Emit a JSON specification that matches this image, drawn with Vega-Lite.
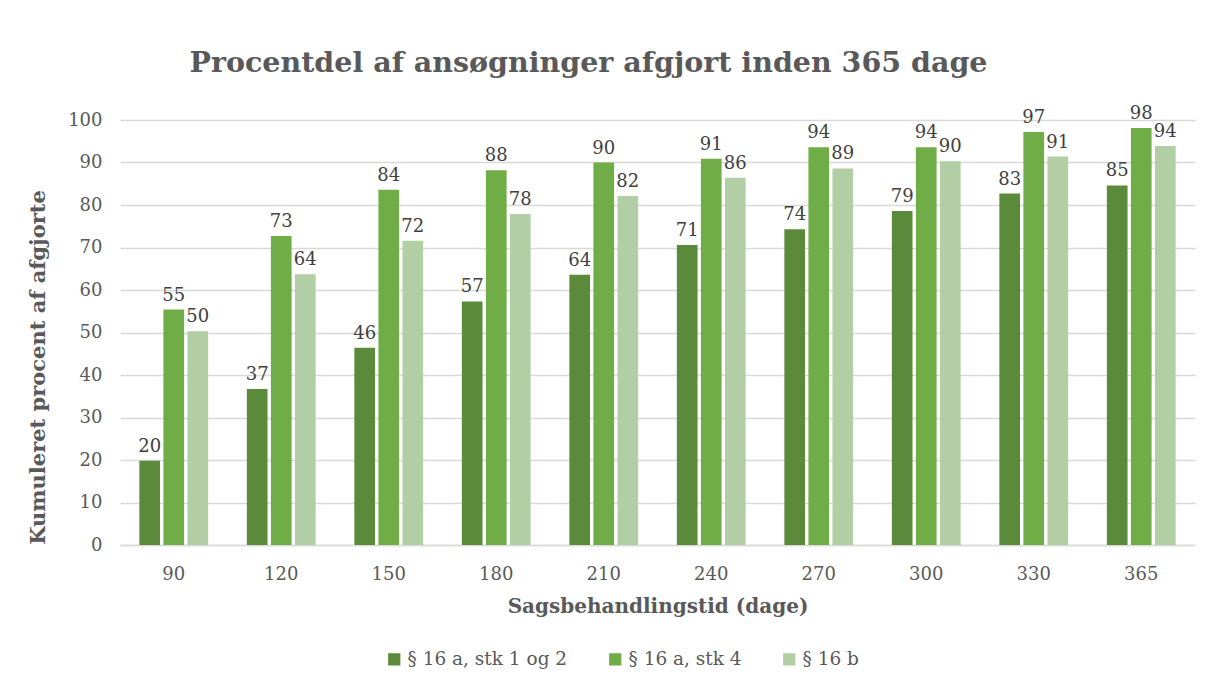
{
  "$schema": "https://vega.github.io/schema/vega-lite/v6.json",
  "autosize": {"type": "none"},
  "width": 1075,
  "height": 425,
  "padding": {"left": 120, "top": 120, "right": 11, "bottom": 144},
  "background": "white",
  "title": {
    "text": "Procentdel af ansøgninger afgjort inden 365 dage",
    "font": "DejaVu Serif",
    "fontSize": 28.5,
    "fontWeight": "bold",
    "color": "#595959",
    "anchor": "middle",
    "frame": "group",
    "dx": -69,
    "offset": 28
  },
  "data": {
    "values": [
      {"dage": "90", "serie": "§ 16 a, stk 1 og 2", "pct": 19.8},
      {"dage": "90", "serie": "§ 16 a, stk 4", "pct": 55.4},
      {"dage": "90", "serie": "§ 16 b", "pct": 50.3},
      {"dage": "120", "serie": "§ 16 a, stk 1 og 2", "pct": 36.7},
      {"dage": "120", "serie": "§ 16 a, stk 4", "pct": 72.7},
      {"dage": "120", "serie": "§ 16 b", "pct": 63.7},
      {"dage": "150", "serie": "§ 16 a, stk 1 og 2", "pct": 46.4},
      {"dage": "150", "serie": "§ 16 a, stk 4", "pct": 83.6},
      {"dage": "150", "serie": "§ 16 b", "pct": 71.6},
      {"dage": "180", "serie": "§ 16 a, stk 1 og 2", "pct": 57.3},
      {"dage": "180", "serie": "§ 16 a, stk 4", "pct": 88.2},
      {"dage": "180", "serie": "§ 16 b", "pct": 77.9},
      {"dage": "210", "serie": "§ 16 a, stk 1 og 2", "pct": 63.6},
      {"dage": "210", "serie": "§ 16 a, stk 4", "pct": 90.0},
      {"dage": "210", "serie": "§ 16 b", "pct": 82.1},
      {"dage": "240", "serie": "§ 16 a, stk 1 og 2", "pct": 70.6},
      {"dage": "240", "serie": "§ 16 a, stk 4", "pct": 90.9},
      {"dage": "240", "serie": "§ 16 b", "pct": 86.4},
      {"dage": "270", "serie": "§ 16 a, stk 1 og 2", "pct": 74.3},
      {"dage": "270", "serie": "§ 16 a, stk 4", "pct": 93.6},
      {"dage": "270", "serie": "§ 16 b", "pct": 88.6},
      {"dage": "300", "serie": "§ 16 a, stk 1 og 2", "pct": 78.6},
      {"dage": "300", "serie": "§ 16 a, stk 4", "pct": 93.6},
      {"dage": "300", "serie": "§ 16 b", "pct": 90.3},
      {"dage": "330", "serie": "§ 16 a, stk 1 og 2", "pct": 82.7},
      {"dage": "330", "serie": "§ 16 a, stk 4", "pct": 97.2},
      {"dage": "330", "serie": "§ 16 b", "pct": 91.4},
      {"dage": "365", "serie": "§ 16 a, stk 1 og 2", "pct": 84.6},
      {"dage": "365", "serie": "§ 16 a, stk 4", "pct": 98.1},
      {"dage": "365", "serie": "§ 16 b", "pct": 93.9}
    ]
  },
  "encoding": {
    "x": {
      "field": "dage",
      "type": "ordinal",
      "sort": null,
      "scale": {"paddingInner": 0.36, "paddingOuter": 0.18},
      "axis": {
        "title": "Sagsbehandlingstid (dage)",
        "labelAngle": 0,
        "labelFont": "DejaVu Serif",
        "labelFontSize": 18,
        "labelColor": "#595959",
        "labelPadding": 20,
        "titleFont": "DejaVu Serif",
        "titleFontSize": 20,
        "titleFontWeight": "bold",
        "titleColor": "#595959",
        "titlePadding": 13,
        "ticks": false,
        "domainColor": "#d9d9d9",
        "domainWidth": 1.5
      }
    },
    "xOffset": {
      "field": "serie",
      "type": "nominal",
      "sort": ["§ 16 a, stk 1 og 2", "§ 16 a, stk 4", "§ 16 b"],
      "scale": {"paddingInner": 0.14}
    },
    "y": {
      "field": "pct",
      "type": "quantitative",
      "scale": {"domain": [0, 100]},
      "axis": {
        "title": "Kumuleret procent af afgjorte",
        "values": [0, 10, 20, 30, 40, 50, 60, 70, 80, 90, 100],
        "labelFont": "DejaVu Serif",
        "labelFontSize": 18,
        "labelColor": "#595959",
        "labelPadding": 18,
        "titleFont": "DejaVu Serif",
        "titleFontSize": 21,
        "titleFontWeight": "bold",
        "titleColor": "#595959",
        "titleX": -72,
        "titleY": 247,
        "ticks": false,
        "domain": false,
        "gridColor": "#d9d9d9",
        "gridWidth": 1.5
      }
    },
    "color": {
      "field": "serie",
      "type": "nominal",
      "sort": ["§ 16 a, stk 1 og 2", "§ 16 a, stk 4", "§ 16 b"],
      "scale": {
        "domain": ["§ 16 a, stk 1 og 2", "§ 16 a, stk 4", "§ 16 b"],
        "range": ["#5b8b3a", "#70ad47", "#b2cea4"]
      },
      "legend": {
        "title": null,
        "orient": "none",
        "direction": "horizontal",
        "legendX": 265,
        "legendY": 530,
        "symbolType": "square",
        "symbolSize": 150,
        "symbolStrokeWidth": 0,
        "labelFont": "DejaVu Serif",
        "labelFontSize": 18.5,
        "labelColor": "#595959",
        "labelOffset": 4,
        "labelLimit": 400,
        "columnPadding": 38
      }
    }
  },
  "layer": [
    {"mark": {"type": "bar"}},
    {
      "mark": {
        "type": "text",
        "baseline": "bottom",
        "dy": -5,
        "font": "DejaVu Serif",
        "fontSize": 18,
        "color": "#404040"
      },
      "encoding": {
        "text": {"field": "pct", "type": "quantitative", "format": ".0f"},
        "color": {"value": "#404040"}
      }
    }
  ],
  "config": {
    "view": {"stroke": null}
  }
}
